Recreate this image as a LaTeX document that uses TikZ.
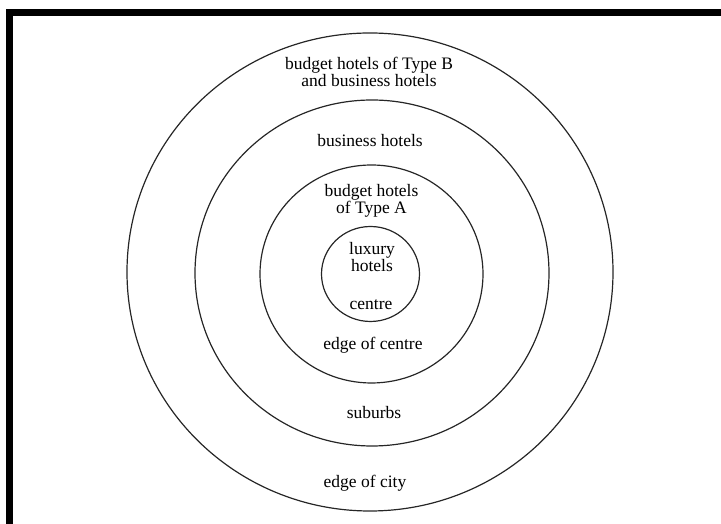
\documentclass[tikz,border=0pt]{standalone}
\usepackage{fontspec}
\setmainfont{Liberation Serif}
\usepackage{tikz}

\begin{document}
\begin{tikzpicture}[x=1pt,y=1pt,
    zone/.style={line width=1.2pt, black!85},
    lbl/.style={anchor=base, align=center, inner sep=0pt,
        font=\fontsize{17.5}{17}\selectfont}]
    \useasboundingbox (0,0) rectangle (721,524);

    % Draw the frame
    \fill (6,514.7) rectangle (721,508);
    \fill (6,514.7) rectangle (13,0);

    % Draw the rings
    \draw[zone] (370,252) ellipse (243 and 239);
    \draw[zone] (372,251) ellipse (177 and 173);
    \draw[zone] (371.5,250) ellipse (111.5 and 109);
    \draw[zone] (370.5,250) ellipse (49 and 47.5);

    % Label the zones
    \node[lbl] (typeB) at (369,437.3) {budget hotels of Type B\\and business hotels};
    \node[lbl] (bizHotels) at (370,377.3) {business hotels};
    \node[lbl] (typeA) at (371.5,310) {budget hotels\\of Type A};
    \node[lbl] (luxury) at (372,252) {luxury\\hotels};
    \node[lbl] (centre) at (371,214) {centre};
    \node[lbl] (edgeCentre) at (373,174) {edge of centre};
    \node[lbl] (suburbs) at (374,105) {suburbs};
    \node[lbl] (edgeCity) at (365,36) {edge of city};
\end{tikzpicture}
\end{document}
